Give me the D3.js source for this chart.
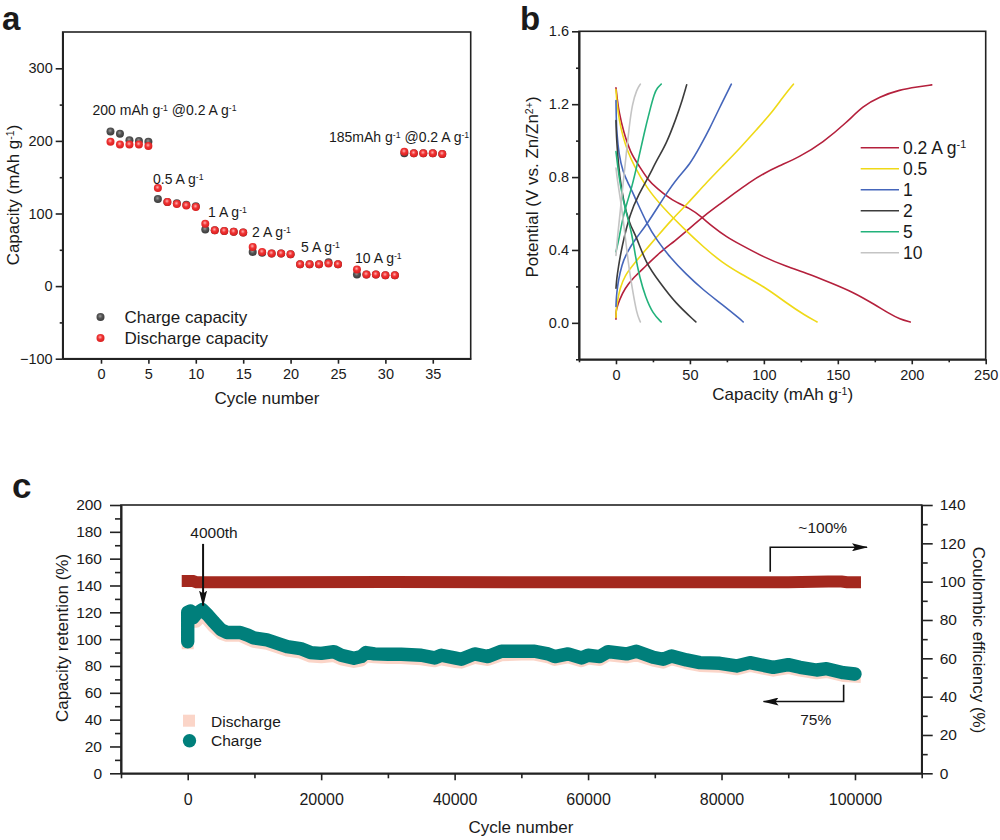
<!DOCTYPE html>
<html lang="en">
<head>
<meta charset="UTF-8">
<title>Rate capability, GCD curves and long cycling</title>
<script src="https://d3js.org/d3.v7.min.js"></script>
<style>
    body { margin: 0; background: #fff; }
    svg { display: block; font-family: 'Liberation Sans', Arial, sans-serif; fill: #1a1a1a; }
    .axis path, .axis line, .frame { stroke: #222; stroke-width: 1.6; }
    .frame { fill: none; }
    .axis text { fill: #1a1a1a; }
    .curve { fill: none; stroke-linejoin: round; stroke-linecap: round; }
    .arrow { fill: none; stroke: #111; }
</style>
</head>
<body>
<div id="chart"></div>
<script>
// panel a: rate capability
const rateCycles = [1,2,3,4,5,6,7,8,9,10,11,12,13,14,15,16,17,18,19,20,21,22,23,24,25,27,28,29,30,31,32,33,34,35,36];
const rateCharge = [213,210,201,200,199,120,116,114,112,110,78,77,76,75,74,47,46,45,45,44,30,30,30,33,30,16,16,16,15,15,183,183,183,183,182];
const rateDischarge = [199,195,195,195,193,135,116,113,111,109,86,77,76,75,74,54,47,45,45,44,30,30,30,31,30,23,16,16,15,15,185,183,183,183,182];

// panel b: [capacity, potential]
const charge02 = [[0,.02],[0,.06],[.5,.08],[2,.12],[6,.19],[12,.25],[20,.31],[30,.39],[40,.45],[50,.52],[60,.59],[70,.65],[80,.71],[90,.77],[100,.82],[110,.86],[124,.91],[140,.99],[156,1.1],[167,1.19],[178,1.24],[192,1.28],[204,1.295],[213.5,1.306]];
const discharge02 = [[0,1.29],[1,1.22],[2,1.16],[5,1.05],[10,.93],[15,.87],[22,.78],[27.5,.74],[38,.67],[50,.63],[58,.58],[65,.53],[75,.47],[84,.43],[100,.36],[115,.31],[130,.27],[145,.22],[160,.17],[175,.1],[185,.05],[192,.02],[199,.005]];
const charge05 = [[0,.03],[.2,.07],[.5,.09],[1,.12],[2.7,.19],[6,.26],[11.7,.32],[20,.4],[27.5,.47],[38,.57],[48,.65],[60,.76],[72,.86],[84,.96],[95,1.06],[105,1.15],[113,1.24],[120,1.31]];
const discharge05 = [[0,1.28],[.5,1.22],[2,1.12],[4.7,1.02],[8,.94],[11.7,.87],[20.7,.74],[32,.63],[45.5,.52],[60,.41],[72,.33],[84,.27],[102,.19],[115,.11],[128,.04],[136,.005]];
const charge1 = [[0,.09],[.2,.13],[.5,.16],[1.5,.23],[4,.32],[7,.38],[13,.46],[21,.54],[34,.71],[42,.8],[50,.87],[57,.97],[63.6,1.07],[70,1.18],[78,1.31]];
const discharge1 = [[0,1.22],[.2,1.12],[.5,1.05],[2,.92],[4.7,.83],[8,.77],[11.7,.71],[21,.54],[28,.45],[36.5,.36],[47,.27],[59,.18],[72,.1],[84,.02],[86,.005]];
const charge2 = [[0,.19],[.2,.21],[.5,.24],[1.5,.3],[4,.42],[9.5,.6],[15,.7],[22,.8],[28,.9],[34,.98],[41,1.13],[44,1.2],[47.8,1.306]];
const discharge2 = [[0,1.11],[.2,1.05],[.5,1],[1.5,.88],[3.5,.74],[7,.6],[10,.53],[14,.47],[20,.33],[29.8,.22],[40,.11],[54,.005]];
const charge5 = [[0,.39],[2,.46],[4.7,.58],[7.5,.66],[10.6,.74],[15,.89],[19,1.04],[23,1.17],[26,1.26],[28,1.29],[30.6,1.31]];
const discharge5 = [[0,.94],[1,.87],[3,.75],[6,.63],[10.6,.5],[13,.37],[16,.25],[20,.14],[25,.05],[30.6,.005]];
const charge10 = [[0,.37],[1,.47],[3,.62],[5,.78],[7,.93],[9,1.08],[11,1.2],[14,1.28],[16.5,1.31]];
const discharge10 = [[0,.85],[1,.78],[3,.68],[5,.56],[7,.42],[9,.29],[11,.19],[14,.05],[16.5,.005]];
const rateLabels = ["0.2 A g", "0.5", "1", "2", "5", "10"];
const rateColors = ["#b4203c", "#efd917", "#4566bb", "#3c3c3c", "#22b27b", "#c4c4c4"];
const gcdCurves = [[charge02, discharge02], [charge05, discharge05], [charge1, discharge1], [charge2, discharge2], [charge5, discharge5], [charge10, discharge10]];

// panel c: long cycling
const longCycles = [0,0,400,800,1300,2200,3000,3860,5000,5860,7870,9000,9870,11880,14000,14900,16900,18400,20000,21900,23000,24900,26000,26700,28000,30000,32000,35000,37000,38000,40000,41000,43000,45000,47000,50000,52000,54000,55000,57000,59000,60000,61750,63000,65750,67250,69750,71250,72500,74750,76750,79750,82250,84250,87750,90000,91750,94250,95750,98250,100000];
const longCharge = [98,120,121,116,119,122,118,113,107,105,105,103,101,99.4,96,94.5,93,90,89.4,90.7,88,85.7,87,90,89,88.7,88.7,88,86,88,86,85,89,87,91,91,91,89,87,89,86,88,87,90.7,89,91,86.5,85,87.5,84.5,82.5,82,80,82.5,79,81,79,77,78,75,74];
const longDischarge = [97,117,118,113,113,118,114,109,104,102.5,102.5,100,98,96.5,93,91.5,90,87,86.5,87.5,85,83,84,87,86.5,86,86,85,83.5,85,83,82.5,86,84.5,88,88.5,88.5,86.5,84.5,86.5,83.5,85.5,84.5,88,86.5,88,84,82.5,85,82,80,79.5,77.5,80,76.5,78.5,76.5,74.5,75.5,72.5,72];
const ceCycles = [0,800,1300,10000,30000,50000,70000,90000,96000,98000,98800,100000];
const coulombic = [100.3,100.3,99.7,99.7,99.8,99.7,99.7,99.7,100.1,100.1,99.7,99.7];

const svg = d3.select("#chart").append("svg").attr("width", 1000).attr("height", 840);

// radial fills for the shiny spheres in panel a
function sphere(id, light, mid, dark) {
    const g = svg.append("defs").append("radialGradient").attr("id", id)
        .attr("cx", "45%").attr("cy", "40%").attr("r", "60%");
    g.append("stop").attr("offset", "0%").attr("stop-color", light);
    g.append("stop").attr("offset", "45%").attr("stop-color", mid);
    g.append("stop").attr("offset", "100%").attr("stop-color", dark);
}
sphere("ballGrey", "#9a9a9a", "#555", "#3a3a3a");
sphere("ballRed", "#ffb0b0", "#f03434", "#d81e1e");

svg.append("defs").append("marker").attr("id", "head")
    .attr("markerUnits", "userSpaceOnUse").attr("viewBox", "0 0 16 8")
    .attr("markerWidth", 16).attr("markerHeight", 8).attr("refX", 15).attr("refY", 4).attr("orient", "auto")
    .append("path").attr("d", "M0,0L16,4L0,8L3,4Z").attr("fill", "#111");

// text with raised bits: parts are [string, isSup]
function rich(x, y, parts, size, anchor, rotate) {
    const t = svg.append("text").attr("font-size", size).attr("text-anchor", anchor || "start")
        .attr("transform", `translate(${x},${y})` + (rotate ? ` rotate(${rotate})` : ""));
    let up = false;
    parts.forEach(([s, sup]) => {
        const sp = t.append("tspan").text(s);
        if (sup) sp.attr("font-size", size * 0.62).attr("dy", -size * 0.32);
        else if (up) sp.attr("dy", size * 0.32);
        up = !!sup;
    });
    return t;
}

function axes(x, y, xMajor, xMinor, yMajor, yMinor, xFmt, yFmt, size) {
    const [x0, x1] = x.range(), [y0, y1] = y.range();
    const g = svg.append("g");
    g.append("rect").attr("class", "frame").attr("x", x0).attr("y", y1).attr("width", x1 - x0).attr("height", y0 - y1);
    const bottom = g.append("g").attr("class", "axis").attr("transform", `translate(0,${y0})`);
    bottom.call(d3.axisBottom(x).tickValues(xMajor).tickSize(5).tickSizeOuter(0).tickPadding(5).tickFormat(xFmt));
    bottom.selectAll("text").attr("font-size", size).attr("font-family", "inherit");
    g.append("g").attr("class", "axis").attr("transform", `translate(0,${y0})`)
        .call(d3.axisBottom(x).tickValues(xMinor).tickSize(3).tickSizeOuter(0).tickFormat(""));
    const left = g.append("g").attr("class", "axis").attr("transform", `translate(${x0},0)`);
    left.call(d3.axisLeft(y).tickValues(yMajor).tickSize(7).tickSizeOuter(0).tickPadding(3).tickFormat(yFmt));
    left.selectAll("text").attr("font-size", size).attr("font-family", "inherit");
    g.append("g").attr("class", "axis").attr("transform", `translate(${x0},0)`)
        .call(d3.axisLeft(y).tickValues(yMinor).tickSize(3).tickSizeOuter(0).tickFormat(""));
}

// ---------- a ----------
const xA = d3.scaleLinear().domain([-4.04, 39]).range([62.7, 470.7]);
const yA = d3.scaleLinear().domain([-100, 350]).range([358.7, 32]);
axes(xA, yA, d3.range(0, 36, 5), [], [-100, 0, 100, 200, 300], [-50, 50, 150, 250], d3.format("d"), d3.format("d"), 14.5);
svg.append("g").selectAll("circle").data(rateCycles).join("circle")
    .attr("cx", d => xA(d)).attr("cy", (d, i) => yA(rateCharge[i])).attr("r", 4).attr("fill", "url(#ballGrey)");
svg.append("g").selectAll("circle").data(rateCycles).join("circle")
    .attr("cx", d => xA(d)).attr("cy", (d, i) => yA(rateDischarge[i])).attr("r", 4).attr("fill", "url(#ballRed)");

rich(92.5, 115, [["200 mAh g"], ["-1", 1], [" @0.2 A g"], ["-1", 1]], 14);
rich(329, 142, [["185mAh g"], ["-1", 1], [" @0.2 A g"], ["-1", 1]], 14);
rich(153, 184, [["0.5 A g"], ["-1", 1]], 14);
rich(208, 217, [["1 A g"], ["-1", 1]], 14);
rich(252, 237, [["2 A g"], ["-1", 1]], 14);
rich(301, 252, [["5 A g"], ["-1", 1]], 14);
rich(355, 263, [["10 A g"], ["-1", 1]], 14);

svg.append("circle").attr("cx", 100.5).attr("cy", 317).attr("r", 4).attr("fill", "url(#ballGrey)");
svg.append("circle").attr("cx", 100.5).attr("cy", 338).attr("r", 4).attr("fill", "url(#ballRed)");
rich(124.5, 323, [["Charge capacity"]], 17);
rich(124.5, 344, [["Discharge capacity"]], 17);
rich(267, 404, [["Cycle number"]], 17, "middle");
rich(19, 195, [["Capacity (mAh g"], ["-1", 1], [")"]], 17, "middle", -90);
rich(2, 30, [["a"]], 33).attr("font-weight", "bold");

// ---------- b ----------
const xB = d3.scaleLinear().domain([-25, 250]).range([579, 985.7]);
const yB = d3.scaleLinear().domain([-0.2, 1.6]).range([359.3, 31.3]);
axes(xB, yB, [0, 50, 100, 150, 200, 250], [-25, 25, 75, 125, 175, 225], [0, .4, .8, 1.2, 1.6], [-.2, .2, .6, 1, 1.4], d3.format("d"), d3.format(".1f"), 14.5);
const gcdLine = d3.line().x(d => xB(d[0])).y(d => yB(d[1])).curve(d3.curveBasis);
gcdCurves.forEach((pair, i) => {
    pair.forEach(pts => {
        svg.append("path").attr("class", "curve").attr("d", gcdLine(pts))
            .attr("stroke", rateColors[i]).attr("stroke-width", 1.6);
    });
});
const legendRow = d3.scaleLinear().domain([0, 5]).range([147.7, 252.7]);
rateLabels.forEach((lab, i) => {
    svg.append("line").attr("x1", 860.7).attr("x2", 899).attr("y1", legendRow(i)).attr("y2", legendRow(i))
        .attr("stroke", rateColors[i]).attr("stroke-width", 1.6);
    rich(903, legendRow(i) + 6, i === 0 ? [[lab], ["-1", 1]] : [[lab]], 17.5);
});
rich(782.7, 400, [["Capacity (mAh g"], ["-1", 1], [")"]], 17, "middle");
rich(538, 187, [["Potential (V vs. Zn/Zn"], ["2+", 1], [")"]], 17, "middle", -90);
rich(520, 30, [["b"]], 33).attr("font-weight", "bold");

// ---------- c ----------
const xC = d3.scaleLinear().domain([-10000, 110000]).range([121, 921.7]);
const yC = d3.scaleLinear().domain([0, 200]).range([773.3, 505]);
const yCE = d3.scaleLinear().domain([0, 140]).range([773.3, 505]);
const [cBottom, cTop] = yC.range();
svg.append("rect").attr("class", "frame").attr("x", 121).attr("y", cTop).attr("width", 800.7).attr("height", cBottom - cTop);

const axB = svg.append("g").attr("class", "axis").attr("transform", `translate(0,${cBottom})`);
axB.call(d3.axisBottom(xC).tickValues(d3.range(0, 100001, 20000)).tickSize(7).tickSizeOuter(0).tickPadding(13).tickFormat(d3.format("d")));
axB.selectAll("text").attr("font-size", 16).attr("font-family", "inherit");
svg.append("g").attr("class", "axis").attr("transform", `translate(0,${cBottom})`)
    .call(d3.axisBottom(xC).tickValues(d3.range(-10000, 110001, 20000)).tickSize(5).tickSizeOuter(0).tickFormat(""));
const axL = svg.append("g").attr("class", "axis").attr("transform", "translate(121,0)");
axL.call(d3.axisLeft(yC).tickValues(d3.range(0, 201, 20)).tickSize(11).tickSizeOuter(0).tickPadding(8).tickFormat(d3.format("d")));
axL.selectAll("text").attr("font-size", 15.5).attr("font-family", "inherit");
svg.append("g").attr("class", "axis").attr("transform", "translate(121,0)")
    .call(d3.axisLeft(yC).tickValues(d3.range(10, 200, 20)).tickSize(6).tickSizeOuter(0).tickFormat(""));
const axR = svg.append("g").attr("class", "axis").attr("transform", "translate(921.7,0)");
axR.call(d3.axisRight(yCE).tickValues(d3.range(0, 141, 20)).tickSize(11).tickSizeOuter(0).tickPadding(7).tickFormat(d3.format("d")));
axR.selectAll("text").attr("font-size", 15.5).attr("font-family", "inherit");
svg.append("g").attr("class", "axis").attr("transform", "translate(921.7,0)")
    .call(d3.axisRight(yCE).tickValues(d3.range(10, 140, 20)).tickSize(6).tickSizeOuter(0).tickFormat(""));

const lineLeft = d3.line().x((d, i) => xC(longCycles[i])).y(d => yC(d));
svg.append("path").attr("class", "curve").attr("d", lineLeft(longDischarge))
    .attr("stroke", "#fbd5c8").attr("stroke-width", 12).style("stroke-linecap", "square");
svg.append("path").attr("class", "curve").attr("d", lineLeft(longCharge))
    .attr("stroke", "#007f7b").attr("stroke-width", 13.4);
const lineCE = d3.line().x((d, i) => xC(ceCycles[i])).y(d => yCE(d));
svg.append("path").attr("class", "curve").attr("d", lineCE(coulombic))
    .attr("stroke", "#a3281e").attr("stroke-width", 12).style("stroke-linecap", "square").style("stroke-linejoin", "miter");

// annotations, placed in data units
function arrow(points, width) {
    svg.append("path").attr("class", "arrow").attr("stroke-width", width)
        .attr("d", d3.line().x(d => xC(d[0])).y(d => yC(d[1]))(points))
        .attr("marker-end", "url(#head)");
}
arrow([[2300, 171], [2300, 125]], 2);
arrow([[87300, 150.3], [87300, 168.5], [101800, 168.5]], 1.6);
arrow([[98300, 66], [98300, 53.5], [86300, 53.5]], 1.6);
rich(214, 537.7, [["4000th"]], 15.5, "middle");
rich(822.7, 533, [["~100%"]], 15.5, "middle");
rich(815.7, 725, [["75%"]], 15.5, "middle");

svg.append("rect").attr("x", 183).attr("y", 714.7).attr("width", 12).attr("height", 12).attr("fill", "#fbd5c8");
svg.append("circle").attr("cx", 189.5).attr("cy", 740.7).attr("r", 6.7).attr("fill", "#007f7b");
rich(211, 726.7, [["Discharge"]], 15.5);
rich(211, 746, [["Charge"]], 15.5);

rich(521, 833, [["Cycle number"]], 17, "middle");
rich(68, 638, [["Capacity retention (%)"]], 17, "middle", -90);
rich(973, 640, [["Coulombic efficiency (%)"]], 17, "middle", 90);
rich(12, 498, [["c"]], 35).attr("font-weight", "bold");
</script>
</body>
</html>
